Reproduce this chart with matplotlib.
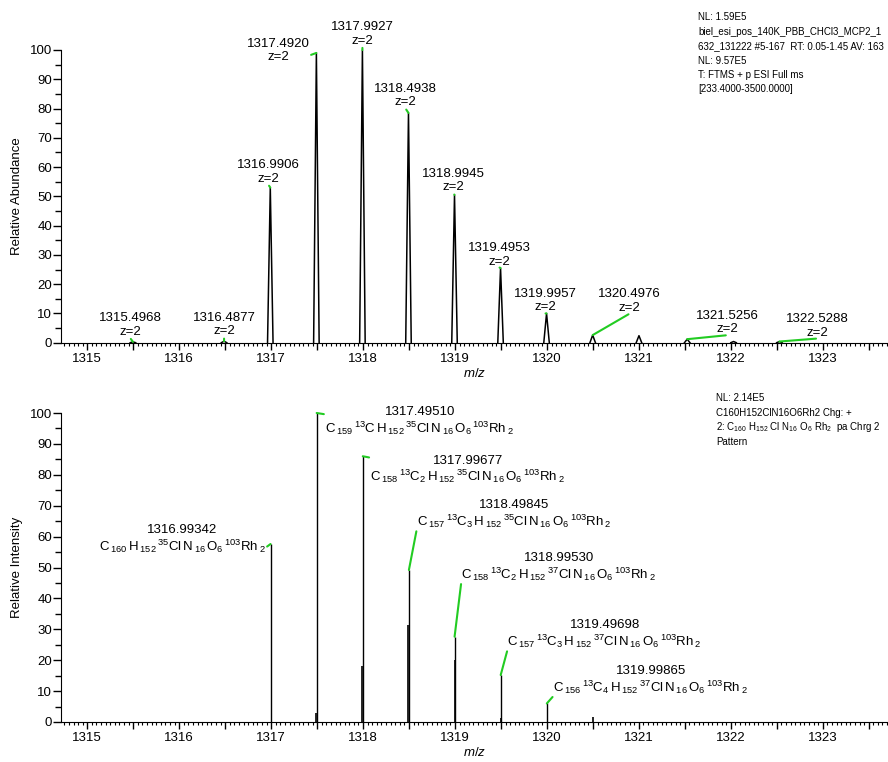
import numpy as np
import matplotlib
matplotlib.use('Agg')
import matplotlib.pyplot as plt
from matplotlib.ticker import MultipleLocator, FuncFormatter

plt.rcParams['font.family'] = ['Liberation Sans', 'DejaVu Sans']
plt.rcParams['mathtext.fontset'] = 'custom'
plt.rcParams['mathtext.rm'] = 'Liberation Sans'
plt.rcParams['mathtext.it'] = 'Liberation Sans:italic'
plt.rcParams['mathtext.bf'] = 'Liberation Sans:bold'

GREEN = '#22cc22'
FS = 9.5

# measured spectrum (profile peaks)
meas_mz = [1315.4968, 1316.4877, 1316.9906, 1317.4920, 1317.9927, 1318.4938,
           1318.9945, 1319.4953, 1319.9957, 1320.4976, 1321.0010, 1321.5256,
           1322.0300, 1322.5288]
meas_int = [0.3, 0.5, 53, 99, 100, 78.5, 50.5, 25.5, 10, 2.6, 2.4, 1.2, 0.4, 0.4]
meas_labelled = [True, True, True, True, True, True, True, True, True, True,
                 False, True, False, True]

# calculated isotope pattern (labelled sticks)
calc_mz = [1316.99342, 1317.49510, 1317.99677, 1318.49845, 1318.99530,
           1319.49698, 1319.99865]
calc_int = [57.6, 100, 86, 49.2, 27.6, 15.2, 6.0]
calc_c13 = [0, 1, 2, 3, 2, 3, 4]
calc_cl = [35, 35, 35, 35, 37, 37, 37]

# unlabelled fine-structure sticks
minor_mz = [1317.4919, 1317.99195, 1318.49362, 1319.00012, 1319.50179, 1320.50031]
minor_int = [3.0, 18.0, 31.5, 20.0, 1.3, 1.7]

top_info = ["NL: 1.59E5",
            "biel_esi_pos_140K_PBB_CHCl3_MCP2_1",
            "632_131222 #5-167  RT: 0.05-1.45 AV: 163",
            "NL: 9.57E5",
            "T: FTMS + p ESI Full ms",
            "[233.4000-3500.0000]"]
bottom_info = ["NL: 2.14E5",
               "C160H152ClN16O6Rh2 Chg: +",
               r"2: C$_{160}$ H$_{152}$ Cl N$_{16}$ O$_{6}$ Rh$_{2}$  pa Chrg 2",
               "Pattern"]

# label placement (pixels, relative to peak top) -- layout only
top_off = [(-3, 4), (0, 4), (-2, 3), (-38, -10), (0, 3.5), (-3, 4.5), (-1, 1.5),
           (-1, 0.5), (-1, 0), (37, 21.5), (40, 4), (38, 3)]
top_rel = [(0.5, 0)] * 12
top_rel[3] = (1.0, 0.3)
bot_off = [(-88, -11), (103, -24), (105, -29), (105, 40), (104, 54), (104, 25), (104, 7.5)]
bot_rel = [(1, 0.25), (0, 0.74), (0, 0.9), (0, 0), (0, 0), (0, 0), (0, 0)]

W, H = 888, 762
fig = plt.figure(figsize=(W / 100, H / 100), dpi=100)
left = 61 / W
ax1 = fig.add_axes([left, (H - 342.7) / H, 1 - left, 292.7 / H])
ax2 = fig.add_axes([left, (H - 722) / H, 1 - left, 309 / H])


def style_axis(ax, ylabel):
    ax.set_xlim(1314.714, 1323.71)
    ax.set_ylim(0, 100)
    for s in ['top', 'right']:
        ax.spines[s].set_visible(False)
    ax.xaxis.set_major_locator(MultipleLocator(0.5))
    ax.xaxis.set_minor_locator(MultipleLocator(0.05))
    ax.xaxis.set_major_formatter(FuncFormatter(
        lambda v, p: f'{v:.0f}' if abs(v - round(v)) < 1e-6 else ''))
    ax.yaxis.set_major_locator(MultipleLocator(10))
    ax.yaxis.set_minor_locator(MultipleLocator(5))
    ax.tick_params(axis='x', which='major', length=5, width=1, pad=2.5, labelsize=FS)
    ax.tick_params(axis='x', which='minor', length=2.4, width=0.8)
    ax.tick_params(axis='y', which='major', length=5.5, width=1, pad=1, labelsize=FS)
    ax.tick_params(axis='y', which='minor', length=4, width=1)
    ax.set_ylabel(ylabel, fontsize=FS)
    ax.yaxis.set_label_coords(-38 / 827, 0.5)
    ax.set_xlabel(r'$m/z$', fontsize=FS)


style_axis(ax1, 'Relative Abundance')
style_axis(ax2, 'Relative Intensity')
ax1.xaxis.set_label_coords(0.5, -24 / 292.7)
ax2.xaxis.set_label_coords(0.5, -24 / 309)

# top: profile peaks
hw = 0.03
k = 0
for mz, h, lab in zip(meas_mz, meas_int, meas_labelled):
    ax1.plot([mz - hw, mz, mz + hw], [0, h, 0], color='black', lw=1.1, clip_on=False)
    if lab:
        ax1.annotate(f'{mz:.4f}\nz=2', xy=(mz, h), xytext=top_off[k],
                     textcoords='offset pixels', ha='center', va='bottom',
                     fontsize=FS, linespacing=1.15, annotation_clip=False,
                     arrowprops=dict(arrowstyle='-', color=GREEN, lw=1.5, patchA=None,
                                     shrinkA=1, shrinkB=0, relpos=top_rel[k]))
        k += 1

# bottom: stick spectrum
ax2.vlines(minor_mz, 0, minor_int, color='black', lw=1.2)
ax2.vlines(calc_mz, 0, calc_int, color='black', lw=1.0, clip_on=False)
for i, (mz, h) in enumerate(zip(calc_mz, calc_int)):
    n13 = calc_c13[i]
    if n13 == 0:
        c13 = ''
    elif n13 == 1:
        c13 = r'{}^{13}C\,'
    else:
        c13 = r'{}^{13}C{}_{%d}\,' % n13
    formula = (r'$\mathregular{C\,{}_{%d}\,%sH\,{}_{152}\,{}^{%d}Cl\,N\,{}_{16}\,O{}_{6}\,{}^{103}Rh\,{}_{2}}$'
               % (160 - n13, c13, calc_cl[i]))
    ax2.annotate(f'{mz:.5f}\n' + formula, xy=(mz, h), xytext=bot_off[i],
                 textcoords='offset pixels', ha='center', va='bottom',
                 fontsize=FS, linespacing=1.1, annotation_clip=False,
                 multialignment='center',
                 arrowprops=dict(arrowstyle='-', color=GREEN, lw=1.5, patchA=None,
                                 shrinkA=1, shrinkB=0, relpos=bot_rel[i]))

for j, line in enumerate(top_info):
    fig.text(698 / W, 1 - (17.5 + 14.4 * j) / H, line, fontsize=7, va='center', ha='left')
for j, line in enumerate(bottom_info):
    fig.text(716 / W, 1 - (398 + 14.5 * j) / H, line, fontsize=7, va='center', ha='left')

fig.savefig('out.png', dpi=100)
